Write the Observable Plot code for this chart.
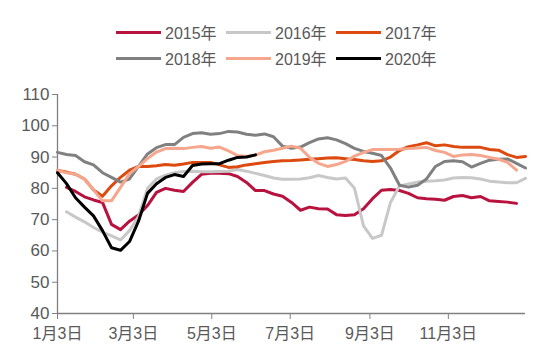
<!DOCTYPE html>
<html>
<head>
<meta charset="utf-8">
<script src="https://cdn.jsdelivr.net/npm/d3@7"></script>
<script src="https://cdn.jsdelivr.net/npm/@observablehq/plot@0.6"></script>
<style>
  html, body { margin: 0; padding: 0; background: #fff; }
  body { width: 550px; height: 362px; overflow: hidden; font-family: "Liberation Sans", Arial, "Noto Sans CJK SC", sans-serif; color: #595959; }
  #legend { position: relative; height: 74px; width: 550px; }
  .item { position: absolute; display: flex; align-items: center; height: 20px; font-size: 16px; white-space: nowrap; }
  .sw { width: 45px; height: 3px; margin-right: 4px; }
  #chart svg { display: block; }
</style>
</head>
<body>
<div id="legend"></div>
<div id="chart"></div>
<script>
// Series names
const years = ["2015年", "2016年", "2017年", "2018年", "2019年", "2020年"];
const colors = ["#b8123f", "#c8c8c8", "#dd4a10", "#808080", "#f5a68c", "#000000"];

// Weekly values (week index i -> day i*7 after Jan 3); null = no data
const v2015 = [null, 80.3, 79, 77.3, 76.3, 75.5, 68.5, 66.8, 69.5, 71.5, 74.5, 78.7, 80, 79.4, 79, 81.9, 84.5, 84.8, 84.8, 84.7, 83.8, 81.9, 79.3, 79.3, 78.2, 77.5, 75.5, 73, 74, 73.5, 73.4, 71.6, 71.3, 71.6, 73.5, 76.7, 79.4, 79.6, 79.3, 78.4, 77, 76.7, 76.5, 76.2, 77.4, 77.7, 77, 77.4, 76, 75.8, 75.6, 75.2];
const v2016 = [null, 72.5, 70.8, 69.3, 67.5, 66, 64.8, 63.5, 66.5, 71, 80, 83, 84.2, 85, 85.4, 85.5, 85.3, 85.3, 85.4, 85.5, 86, 85.5, 84.8, 84.1, 83.3, 82.9, 82.9, 83, 83.4, 84.1, 83.5, 83, 83.3, 80, 68, 64, 65, 75.5, 80.8, 81.4, 82, 82.3, 82.4, 82.7, 83.3, 83.5, 83.4, 83, 82.3, 82, 81.8, 81.8, 83.2];
const v2017 = [85.7, 85.2, 84.5, 83, 79.5, 77.5, 80.8, 83.5, 85.8, 87, 87, 87.2, 87.6, 87.4, 87.8, 88.3, 88.3, 88.3, 87.5, 86.7, 86.9, 87.5, 87.9, 88.3, 88.6, 88.8, 88.9, 89.1, 89.3, 89.5, 89.7, 89.8, 89.5, 89.2, 88.8, 88.6, 88.8, 90, 92.1, 93.3, 93.9, 94.6, 93.6, 93.9, 93.4, 93.1, 93.1, 93.1, 92.4, 92.2, 90.8, 89.9, 90.2];
const v2018 = [91.5, 90.8, 90.5, 88.5, 87.5, 85, 83.5, 82, 83, 87, 91, 93, 94, 94, 96.3, 97.5, 97.8, 97.3, 97.5, 98.2, 98, 97.3, 97, 97.4, 96.5, 93.5, 92.8, 93.2, 94.6, 95.8, 96.2, 95.5, 94.3, 92.8, 91.8, 91.2, 90.5, 86.5, 81, 80.4, 81, 83, 87, 88.6, 88.8, 88.5, 86.8, 88, 89, 89.3, 89.4, 88, 86.5];
const v2019 = [85.7, 85, 84.5, 83, 79.5, 76, 76, 80.3, 84.7, 87, 89.5, 91.6, 92.7, 92.8, 92.7, 93.1, 93.4, 92.8, 93.2, 92, 90.5, 90.2, 90.6, 91.7, 92.2, 92.8, 93.5, 92.8, 89.9, 88, 87, 87.6, 88.6, 90.3, 91.5, 92.4, 92.4, 92.4, 92.5, 92.7, 92.9, 93.1, 92.1, 91.5, 90.2, 90.7, 90.8, 90.5, 89.9, 89.3, 88.3, 85.8];
const v2020 = [85, 81.5, 77, 74, 71.2, 66.5, 61, 60.2, 63, 69.5, 78.4, 81.5, 83.5, 84.4, 83.8, 87.3, 87.8, 87.9, 87.9, 89, 89.9, 90, 90.7];

// Axis ticks
const tickDays = [0, 59, 120, 181, 243, 304];
const tickLabels = ["1月3日", "3月3日", "5月3日", "7月3日", "9月3日", "11月3日"];
const yTicks = [40, 50, 60, 70, 80, 90, 100, 110];

const allValues = [v2015, v2016, v2017, v2018, v2019, v2020];
const rows = allValues.flatMap((vals, k) =>
  vals.map((v, i) => ({ day: i * 7, value: v, year: years[k] })));

// Legend
const legend = document.getElementById("legend");
years.forEach((y, k) => {
  const row = Math.floor(k / 3), col = k % 3;
  const it = document.createElement("div");
  it.className = "item";
  it.style.left = (116 + col * 110) + "px";
  it.style.top = (row === 0 ? 22 : 48) + "px";
  it.innerHTML = `<span class="sw" style="background:${colors[k]}"></span><span>${y}</span>`;
  legend.appendChild(it);
});

const chart = Plot.plot({
  width: 550,
  height: 288,
  marginTop: 20,
  marginBottom: 49,
  marginLeft: 57,
  marginRight: 25,
  style: { fontFamily: '"Liberation Sans", Arial, "Noto Sans CJK SC", sans-serif', background: "#fff" },
  x: { domain: [0, 364] },
  y: { domain: [40, 110] },
  color: { domain: years, range: colors },
  marks: [
    Plot.axisY({ ticks: yTicks, tickSize: 5, tickPadding: 3, stroke: "#808080", fill: "#595959", fontSize: 17, label: null }),
    Plot.axisX({ ticks: tickDays, tickFormat: d => tickLabels[tickDays.indexOf(d)], tickSize: 6, tickPadding: 8, stroke: "#808080", fill: "#595959", fontSize: 16, label: null }),
    Plot.ruleX([0], { stroke: "#808080", strokeWidth: 1.3 }),
    Plot.ruleY([40], { stroke: "#808080", strokeWidth: 1.3 }),
    Plot.line(rows, { x: "day", y: "value", z: "year", stroke: "year", strokeWidth: 3, defined: d => d.value != null })
  ]
});
document.getElementById("chart").appendChild(chart);
</script>
</body>
</html>
